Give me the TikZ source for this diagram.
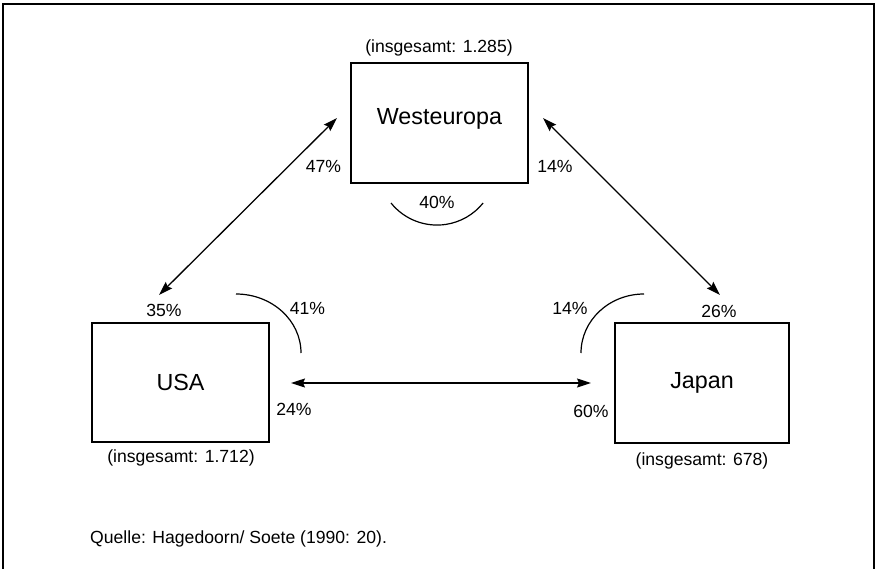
\documentclass[tikz,border=0pt]{standalone}
\usepackage{fontspec}
\setmainfont{Liberation Sans}
\usetikzlibrary{arrows.meta}
\tikzset{
  box/.style={draw, line width=1.3pt, inner sep=0pt, font=\fontsize{23.3}{27}\selectfont},
  lbl/.style={inner sep=0pt, font=\fontsize{17.6}{21}\selectfont},
  tip/.style={Stealth[length=14pt,width=9pt,inset=2pt]},
  conn/.style={line width=1.3pt, {Stealth[length=14pt,width=9pt,inset=2pt]}-{Stealth[length=14pt,width=9pt,inset=2pt]}},
  curve/.style={line width=1.2pt},
  frame/.style={line width=2pt}
}
\begin{document}
\begin{tikzpicture}[x=1pt,y=-1pt]
\useasboundingbox (0,0) rectangle (877,569);
\draw[frame] (3,575) -- (3,4) -- (874,4) -- (874,575);

% boxes
\node[box, minimum width=177pt, minimum height=120pt, text height=14pt, text depth=10pt] (we) at (439.5,123) {Westeuropa};
\node[box, minimum width=177pt, minimum height=119pt] (usa) at (180.5,382.5) {USA};
\node[box, minimum width=174pt, minimum height=120pt] (jp) at (702,383) {Japan};

% totals
\node[lbl] (weTot) at (439,48) {(insgesamt: 1.285)};
\node[lbl] (usaTot) at (181,458) {(insgesamt: 1.712)};
\node[lbl] (jpTot) at (702,461) {(insgesamt: 678)};

% arrow end points
\coordinate (a1) at (337,118);
\coordinate (a2) at (159,295);
\coordinate (b1) at (543,118);
\coordinate (b2) at (720,295);
\coordinate (c1) at (291,383);
\coordinate (c2) at (591,383);
\draw[conn] (a1) -- (a2);
\draw[conn] (b1) -- (b2);
\draw[conn] (c1) -- (c2);

% internal arcs
\coordinate (weArcS) at (391,203);
\coordinate (usaArcS) at (236,294);
\coordinate (jpArcS) at (644,294);
\draw[curve] (weArcS) arc[start angle=218.8, end angle=321.2, radius=59.1pt];
\draw[curve] (usaArcS) arc[start angle=90, end angle=0, x radius=65pt, y radius=59pt];
\draw[curve] (jpArcS) arc[start angle=90, end angle=180, x radius=63pt, y radius=59pt];

% percentages
\node[lbl] (p47) at (323.5,166) {47\%};
\node[lbl] (p14a) at (555,166) {14\%};
\node[lbl] (p40) at (437,202) {40\%};
\node[lbl] (p35) at (164,310) {35\%};
\node[lbl] (p41) at (307.5,308) {41\%};
\node[lbl] (p24) at (294,409) {24\%};
\node[lbl] (p14b) at (570,308) {14\%};
\node[lbl] (p60) at (591,411) {60\%};
\node[lbl] (p26) at (719,311) {26\%};

% source
\node[lbl, anchor=west] (src) at (90,539) {Quelle: Hagedoorn/ Soete (1990: 20).};
\end{tikzpicture}
\end{document}
